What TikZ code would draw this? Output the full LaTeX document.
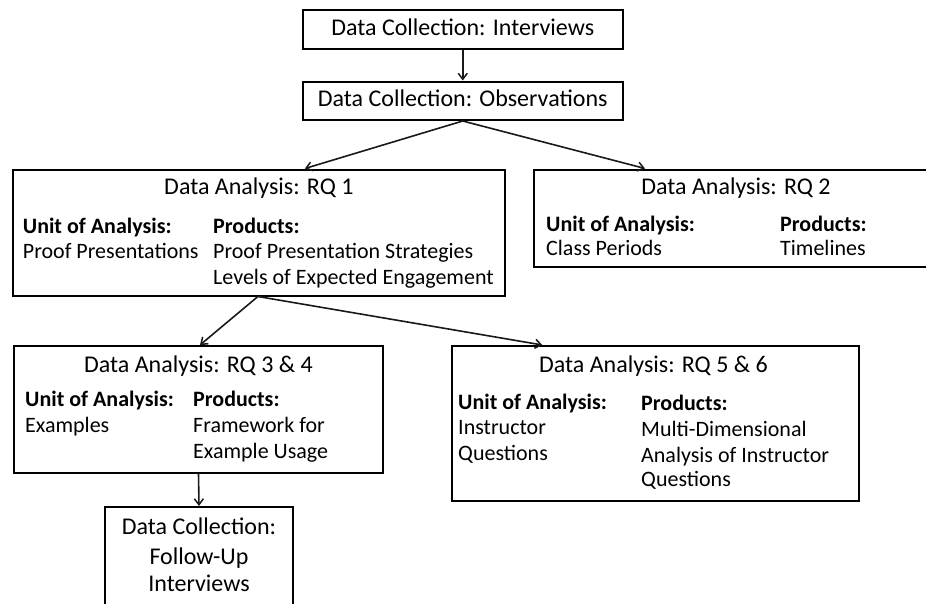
\documentclass[tikz,border=0pt]{standalone}
\usepackage{fontspec}
\setmainfont{Carlito}
\usetikzlibrary{arrows.meta}
\begin{document}
\begin{tikzpicture}[x=1pt,y=-1pt,
  box/.style={draw=black, line width=2pt, inner sep=0pt},
  arr/.style={draw=black!90, line width=1.6pt, -{Straight Barb[length=6pt,width=9pt,line width=1.5pt]}},
  title/.style={font=\fontsize{24}{28}\selectfont, text=black, inner sep=0pt, anchor=base},
  body/.style={font=\fontsize{22}{26}\selectfont, text=black, inner sep=0pt, anchor=base west},
  head/.style={body, font=\fontsize{22}{26}\selectfont\bfseries}]
\useasboundingbox (0,0) rectangle (926,603);
\clip (0,0) rectangle (926,603);

% collection boxes at the top
\node[box, minimum width=320.5pt, minimum height=39pt] (b1) at (462.75,29) {};
\node[title] (b1t) at (462.75,35) {Data Collection: Interviews};
\node[box, minimum width=320.5pt, minimum height=38.5pt] (b2) at (462.75,100.75) {};
\node[title] (b2t) at (462.75,106) {Data Collection: Observations};

% RQ 1
\node[box, minimum width=492pt, minimum height=126pt] (rq1) at (258.9,232.5) {};
\node[title] (rq1t) at (258.9,194) {Data Analysis: RQ 1};
\node[head] (rq1u) at (22.7,233) {Unit of Analysis:};
\node[body] (rq1u1) at (22.7,258.5) {Proof Presentations};
\node[head] (rq1p) at (213,233) {Products:};
\node[body] (rq1p1) at (213,258.5) {Proof Presentation Strategies};
\node[body] (rq1p2) at (213,284) {Levels of Expected Engagement};

% RQ 2 (runs past the right edge)
\node[box, minimum width=404pt, minimum height=97pt] (rq2) at (736,218) {};
\node[title] (rq2t) at (736,194.5) {Data Analysis: RQ 2};
\node[head] (rq2u) at (546,231.5) {Unit of Analysis:};
\node[body] (rq2u1) at (546,255) {Class Periods};
\node[head] (rq2p) at (780,231.5) {Products:};
\node[body] (rq2p1) at (780,255) {Timelines};

% RQ 3 & 4
\node[box, minimum width=369pt, minimum height=126.5pt] (rq3) at (198.5,409.25) {};
\node[title] (rq3t) at (198.5,372.5) {Data Analysis: RQ 3 \& 4};
\node[head] (rq3u) at (25,406) {Unit of Analysis:};
\node[body] (rq3u1) at (25,432.5) {Examples};
\node[head] (rq3p) at (193,406) {Products:};
\node[body] (rq3p1) at (193,432.5) {Framework for};
\node[body] (rq3p2) at (193,458) {Example Usage};

% RQ 5 & 6
\node[box, minimum width=407.3pt, minimum height=154.7pt] (rq5) at (655.35,423.35) {};
\node[title] (rq5t) at (653.5,372.5) {Data Analysis: RQ 5 \& 6};
\node[head] (rq5u) at (458,409) {Unit of Analysis:};
\node[body] (rq5u1) at (458,434) {Instructor};
\node[body] (rq5u2) at (458,460) {Questions};
\node[head] (rq5p) at (641,410.5) {Products:};
\node[body] (rq5p1) at (641,436.5) {Multi-Dimensional};
\node[body] (rq5p2) at (641,462.5) {Analysis of Instructor};
\node[body] (rq5p3) at (641,486) {Questions};

% follow-up collection (runs past the bottom edge)
\node[box, minimum width=188pt, minimum height=110pt] (fu) at (199,562) {};
\node[title] (fu1) at (199,534) {Data Collection:};
\node[title] (fu2) at (199,564.5) {Follow-Up};
\node[title] (fu3) at (199,591.5) {Interviews};

% connectors
\draw[arr] (b1.south) -- (b2.north);
\draw[arr] (b2.south) -- ([xshift=46pt]rq1.north);
\draw[arr] (b2.south) -- ([xshift=-91pt]rq2.north);
\draw[arr] ([xshift=-1pt]rq1.south) -- ([xshift=1.5pt]rq3.north);
\draw[arr] ([xshift=-1pt]rq1.south) -- ([xshift=-113pt]rq5.north);
\draw[arr] (rq3.south) -- (fu.north);
\end{tikzpicture}
\end{document}
